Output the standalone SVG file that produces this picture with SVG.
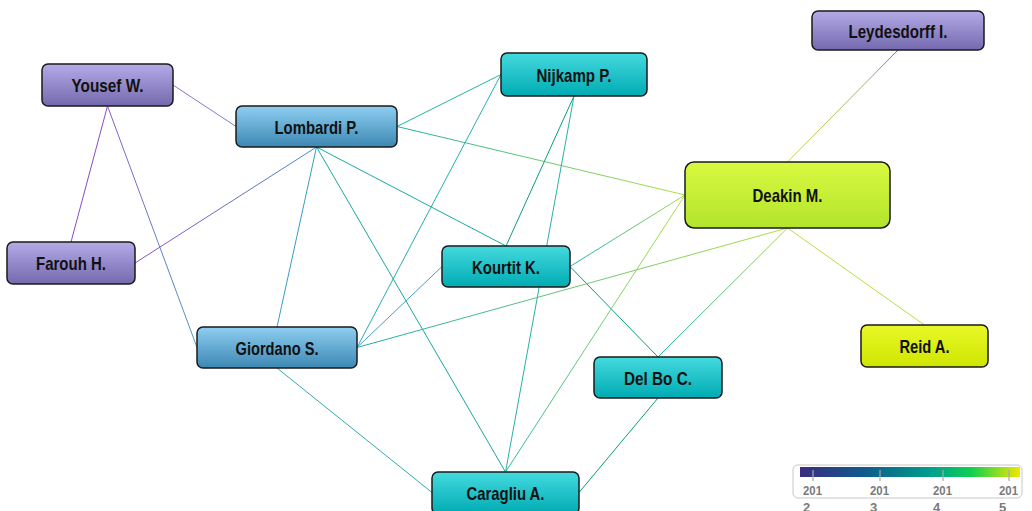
<svg xmlns="http://www.w3.org/2000/svg" width="1032" height="511" viewBox="0 0 1032 511">
<defs>
<linearGradient id="gPurple" x1="0" y1="0" x2="0" y2="1"><stop offset="0" stop-color="#b4abe8"/><stop offset="1" stop-color="#7469ad"/></linearGradient>
<linearGradient id="gBlue" x1="0" y1="0" x2="0" y2="1"><stop offset="0" stop-color="#8ecef2"/><stop offset="1" stop-color="#3c88b3"/></linearGradient>
<linearGradient id="gTeal" x1="0" y1="0" x2="0" y2="1"><stop offset="0" stop-color="#44dade"/><stop offset="1" stop-color="#00abb3"/></linearGradient>
<linearGradient id="gLime" x1="0" y1="0" x2="0" y2="1"><stop offset="0" stop-color="#d8fa40"/><stop offset="1" stop-color="#b3e42c"/></linearGradient>
<linearGradient id="gYellow" x1="0" y1="0" x2="0" y2="1"><stop offset="0" stop-color="#e8f828"/><stop offset="1" stop-color="#cfe600"/></linearGradient>
<linearGradient id="gLegend" x1="0" y1="0" x2="1" y2="0"><stop offset="0" stop-color="#3a2d80"/><stop offset="0.3" stop-color="#0e5c8c"/><stop offset="0.6" stop-color="#00a08c"/><stop offset="0.78" stop-color="#10d050"/><stop offset="1" stop-color="#f0e800"/></linearGradient>
<linearGradient id="eLey" gradientUnits="userSpaceOnUse" x1="898" y1="50" x2="787" y2="162"><stop offset="0" stop-color="#8a58c8"/><stop offset="0.3" stop-color="#a0b070"/><stop offset="1" stop-color="#b8e040"/></linearGradient>
<linearGradient id="eLomDea" gradientUnits="userSpaceOnUse" x1="397" y1="127" x2="685" y2="195"><stop offset="0" stop-color="#20b0a0"/><stop offset="1" stop-color="#b0e040"/></linearGradient>
<linearGradient id="eKouDea" gradientUnits="userSpaceOnUse" x1="570" y1="266" x2="685" y2="195"><stop offset="0" stop-color="#20b0a8"/><stop offset="1" stop-color="#a0d850"/></linearGradient>
<linearGradient id="eGioDea" gradientUnits="userSpaceOnUse" x1="357" y1="347" x2="787" y2="228"><stop offset="0" stop-color="#20a8b0"/><stop offset="1" stop-color="#b0e040"/></linearGradient>
<linearGradient id="eDeaCar" gradientUnits="userSpaceOnUse" x1="685" y1="195" x2="505" y2="472"><stop offset="0" stop-color="#b0e040"/><stop offset="1" stop-color="#30b8a0"/></linearGradient>
<linearGradient id="eDeaDel" gradientUnits="userSpaceOnUse" x1="787" y1="228" x2="658" y2="357"><stop offset="0" stop-color="#a0d850"/><stop offset="1" stop-color="#20b0a0"/></linearGradient>
<linearGradient id="eYouLom" gradientUnits="userSpaceOnUse" x1="173" y1="85" x2="236" y2="127"><stop offset="0" stop-color="#9a6cd0"/><stop offset="1" stop-color="#7088c8"/></linearGradient>
<linearGradient id="eYouGio" gradientUnits="userSpaceOnUse" x1="107" y1="106" x2="197" y2="347"><stop offset="0" stop-color="#8a5cc8"/><stop offset="1" stop-color="#4a9ac0"/></linearGradient>
<linearGradient id="eFarLom" gradientUnits="userSpaceOnUse" x1="135" y1="263" x2="316" y2="147"><stop offset="0" stop-color="#8a50c8"/><stop offset="1" stop-color="#4a8ac0"/></linearGradient>
<style>
.node rect{stroke:#1a1a1a;stroke-width:1.5}
.node text{font-family:"Liberation Sans",Arial,sans-serif;font-weight:bold;font-size:19px;fill:#111;text-anchor:middle}
.edges line{stroke-width:1;fill:none}
.leg{font-family:"Liberation Sans",Arial,sans-serif;font-weight:bold;font-size:13px;fill:#7a7a7a}
</style>
</defs>
<rect width="1032" height="511" fill="#ffffff"/>
<g id="connectors" class="edges">
<line x1="173" y1="85" x2="236" y2="126.5" stroke="url(#eYouLom)"/>
<line x1="107.5" y1="106" x2="71" y2="242" stroke="#8a4cc4"/>
<line x1="107.5" y1="106" x2="197" y2="347.5" stroke="url(#eYouGio)"/>
<line x1="135" y1="263" x2="316.5" y2="147" stroke="url(#eFarLom)"/>
<line x1="397" y1="126.5" x2="501" y2="74.5" stroke="#20b4a4"/>
<line x1="397" y1="126.5" x2="685" y2="195" stroke="url(#eLomDea)"/>
<line x1="316.5" y1="147" x2="506" y2="246" stroke="#1aa8a8"/>
<line x1="316.5" y1="147" x2="277" y2="327" stroke="#3a9cc0"/>
<line x1="316.5" y1="147" x2="505.5" y2="472" stroke="#18a8a0"/>
<line x1="501" y1="74.5" x2="357" y2="347.5" stroke="#28acb4"/>
<line x1="574" y1="96" x2="506" y2="246" stroke="#0a9c80"/>
<line x1="574" y1="96" x2="505.5" y2="472" stroke="#28b0a4"/>
<line x1="442" y1="266.5" x2="357" y2="347.5" stroke="#4a9cc8"/>
<line x1="570" y1="266.5" x2="685" y2="195" stroke="url(#eKouDea)"/>
<line x1="570" y1="266.5" x2="658" y2="357" stroke="#0a9c80"/>
<line x1="357" y1="347.5" x2="787.5" y2="228" stroke="url(#eGioDea)"/>
<line x1="277" y1="368" x2="432" y2="492.5" stroke="#30aab0"/>
<line x1="685" y1="195" x2="505.5" y2="472" stroke="url(#eDeaCar)"/>
<line x1="787.5" y1="228" x2="658" y2="357" stroke="url(#eDeaDel)"/>
<line x1="787.5" y1="228" x2="924.5" y2="325" stroke="#b4e040"/>
<line x1="787.5" y1="162" x2="898" y2="50" stroke="url(#eLey)"/>
<line x1="658" y1="398" x2="579" y2="492.5" stroke="#0a9c78"/>
</g>
<g id="node-yousef" class="node"><rect x="42" y="64" width="131" height="42" rx="6" fill="url(#gPurple)"/><text x="107.5" y="92" textLength="72" lengthAdjust="spacingAndGlyphs">Yousef W.</text></g>
<g id="node-lombardi" class="node"><rect x="236" y="106" width="161" height="41" rx="6" fill="url(#gBlue)"/><text x="316.5" y="133.5" textLength="84" lengthAdjust="spacingAndGlyphs">Lombardi P.</text></g>
<g id="node-farouh" class="node"><rect x="7" y="242" width="128" height="42" rx="6" fill="url(#gPurple)"/><text x="71" y="270" textLength="70" lengthAdjust="spacingAndGlyphs">Farouh H.</text></g>
<g id="node-giordano" class="node"><rect x="197" y="327" width="160" height="41" rx="6" fill="url(#gBlue)"/><text x="277" y="354.5" textLength="83" lengthAdjust="spacingAndGlyphs">Giordano S.</text></g>
<g id="node-nijkamp" class="node"><rect x="501" y="53" width="146" height="43" rx="6" fill="url(#gTeal)"/><text x="574" y="81.5" textLength="75" lengthAdjust="spacingAndGlyphs">Nijkamp P.</text></g>
<g id="node-kourtit" class="node"><rect x="442" y="246" width="128" height="41" rx="6" fill="url(#gTeal)"/><text x="506" y="273.5" textLength="68" lengthAdjust="spacingAndGlyphs">Kourtit K.</text></g>
<g id="node-delbo" class="node"><rect x="594" y="357" width="128" height="41" rx="6" fill="url(#gTeal)"/><text x="658" y="384.5" textLength="68" lengthAdjust="spacingAndGlyphs">Del Bo C.</text></g>
<g id="node-caragliu" class="node"><rect x="432" y="472" width="147" height="42" rx="6" fill="url(#gTeal)"/><text x="505.5" y="500" textLength="78" lengthAdjust="spacingAndGlyphs">Caragliu A.</text></g>
<g id="node-deakin" class="node"><rect x="685" y="162" width="205" height="66" rx="9" fill="url(#gLime)"/><text x="787.5" y="202" textLength="70" lengthAdjust="spacingAndGlyphs">Deakin M.</text></g>
<g id="node-reid" class="node"><rect x="861" y="325" width="127" height="42" rx="6" fill="url(#gYellow)"/><text x="924.5" y="353" textLength="50" lengthAdjust="spacingAndGlyphs">Reid A.</text></g>
<g id="node-leydesdorff" class="node"><rect x="812" y="11" width="172" height="39" rx="6" fill="url(#gPurple)"/><text x="898" y="37.5" textLength="99" lengthAdjust="spacingAndGlyphs">Leydesdorff I.</text></g>
<g id="legend">
<rect x="793" y="465" width="229" height="33" rx="5" fill="#ffffff" stroke="#c8c8c8" stroke-width="1"/>
<rect x="800" y="467" width="220" height="10" fill="url(#gLegend)"/>
<g stroke="#a8a8a8" stroke-width="1.2">
<line x1="813" y1="470" x2="813" y2="481"/>
<line x1="880" y1="470" x2="880" y2="481"/>
<line x1="943" y1="470" x2="943" y2="481"/>
<line x1="1009" y1="470" x2="1009" y2="481"/>
</g>
<text class="leg" x="803" y="495" textLength="19" lengthAdjust="spacingAndGlyphs">201</text><text class="leg" x="803" y="512">2</text>
<text class="leg" x="870" y="495" textLength="19" lengthAdjust="spacingAndGlyphs">201</text><text class="leg" x="870" y="512">3</text>
<text class="leg" x="933" y="495" textLength="19" lengthAdjust="spacingAndGlyphs">201</text><text class="leg" x="933" y="512">4</text>
<text class="leg" x="999" y="495" textLength="19" lengthAdjust="spacingAndGlyphs">201</text><text class="leg" x="999" y="512">5</text>
</g>
</svg>
